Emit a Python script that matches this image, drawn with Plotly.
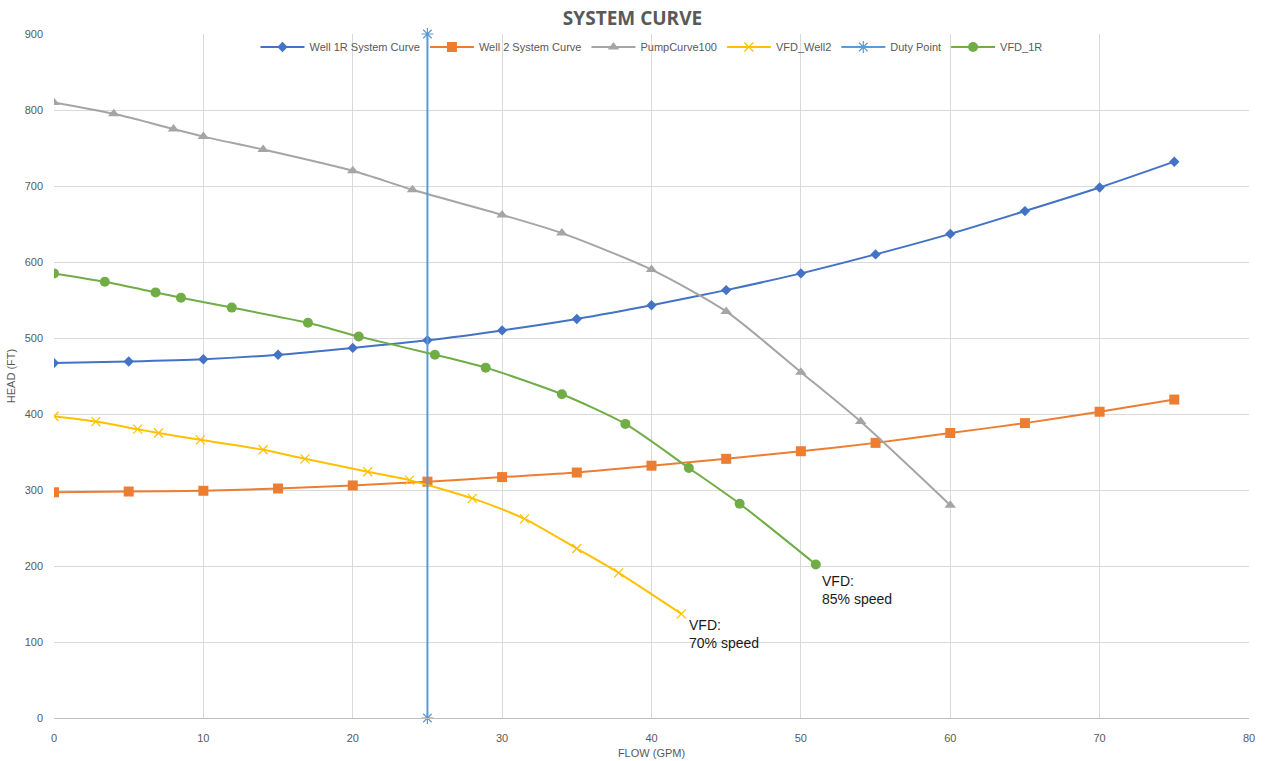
import plotly.graph_objects as go

# Flow (GPM) and head (FT) values for each curve
well1r_flow = [0, 5, 10, 15, 20, 25, 30, 35, 40, 45, 50, 55, 60, 65, 70, 75]
well1r_head = [467, 469, 472, 478, 487, 497, 510, 525, 543, 563, 585, 610, 637, 667, 698, 732]

well2_flow = [0, 5, 10, 15, 20, 25, 30, 35, 40, 45, 50, 55, 60, 65, 70, 75]
well2_head = [297, 298, 299, 302, 306, 311, 317, 323, 332, 341, 351, 362, 375, 388, 403, 419]

pump_flow = [0, 4, 8, 10, 14, 20, 24, 30, 34, 40, 45, 50, 54, 60]
pump_head = [810, 795, 775, 765, 748, 720, 695, 662, 638, 590, 535, 455, 390, 280]

vfd_well2_flow = [0, 2.8, 5.6, 7, 9.8, 14, 16.8, 21, 23.8, 28, 31.5, 35, 37.8, 42]
vfd_well2_head = [397, 390, 380, 375, 366, 353, 341, 324, 313, 289, 262, 223, 191, 137]

duty_flow = [25, 25]
duty_head = [0, 900]

vfd_1r_flow = [0, 3.4, 6.8, 8.5, 11.9, 17, 20.4, 25.5, 28.9, 34, 38.25, 42.5, 45.9, 51]
vfd_1r_head = [585, 574, 560, 553, 540, 520, 502, 478, 461, 426, 387, 329, 282, 202]

x_ticks = [0, 10, 20, 30, 40, 50, 60, 70, 80]
y_ticks = [0, 100, 200, 300, 400, 500, 600, 700, 800, 900]

GRAY_TEXT = "#595959"
GRID = "#D9D9D9"

fig = go.Figure()

def curve(x, y, name, color, symbol, msize, smooth=True, mline=None, clip=True):
    marker = dict(symbol=symbol, size=msize, color=color)
    if mline:
        marker["line"] = mline
    fig.add_trace(go.Scatter(
        x=x, y=y, name=name, mode="lines+markers", cliponaxis=clip,
        line=dict(color=color, width=2,
                  shape="spline" if smooth else "linear", smoothing=0.7),
        marker=marker,
    ))

curve(well1r_flow, well1r_head, "Well 1R System Curve", "#4472C4", "diamond", 8)
curve(well2_flow, well2_head, "Well 2 System Curve", "#ED7D31", "square", 10)
curve(pump_flow, pump_head, "PumpCurve100", "#A5A5A5", "triangle-up", 10)
curve(vfd_well2_flow, vfd_well2_head, "VFD_Well2", "#FFC000", "x-thin-open", 9,
      mline=dict(color="#FFC000", width=1.2))
curve(duty_flow, duty_head, "Duty Point", "#5B9BD5", "asterisk-open", 10, smooth=False,
      mline=dict(color="#5B9BD5", width=1.2), clip=False)
curve(vfd_1r_flow, vfd_1r_head, "VFD_1R", "#70AD47", "circle", 10)

ann_font = dict(family="Liberation Sans, Arial, sans-serif", size=14, color="#1a1a1a")
fig.add_annotation(x=42.4, y=135, text="VFD:<br>70% speed", showarrow=False,
                   xanchor="left", yanchor="top", align="left", font=ann_font)
fig.add_annotation(x=51.3, y=194, text="VFD:<br>85% speed", showarrow=False,
                   xanchor="left", yanchor="top", align="left", font=ann_font)

def axis_font():
    return dict(family="Liberation Sans Narrow, Arial Narrow, sans-serif", size=11, color=GRAY_TEXT)

fig.update_layout(
    template="none",
    width=1265, height=761,
    margin=dict(l=54, r=16, t=34, b=43),
    paper_bgcolor="white", plot_bgcolor="white",
    font=dict(color=GRAY_TEXT),
    title=dict(text="<b>SYSTEM CURVE</b>", x=0.5, xanchor="center", y=0.976, yanchor="middle",
               font=dict(family="Open Sans, sans-serif", size=19, color=GRAY_TEXT)),
    legend=dict(orientation="h", x=0.5, xanchor="center", y=0.981, yanchor="middle",
                bgcolor="rgba(0,0,0,0)", font=axis_font(),
                itemwidth=44, tracegroupgap=0),
    xaxis=dict(range=[0, 80], tickvals=x_ticks, showgrid=True, gridcolor=GRID, gridwidth=1,
               zeroline=False, showline=True, linecolor="#BFBFBF", linewidth=1,
               ticks="", tickfont=axis_font(), ticklabelstandoff=10, automargin=False,
               title=dict(text="FLOW (GPM)", font=axis_font(), standoff=6)),
    yaxis=dict(range=[0, 900], tickvals=y_ticks, showgrid=True, gridcolor=GRID, gridwidth=1,
               zeroline=False, showline=False, ticks="", tickfont=axis_font(), ticklabelstandoff=10,
               automargin=False,
               title=dict(text="HEAD (FT)", font=axis_font(), standoff=6)),
)

fig.write_html("out.html")
